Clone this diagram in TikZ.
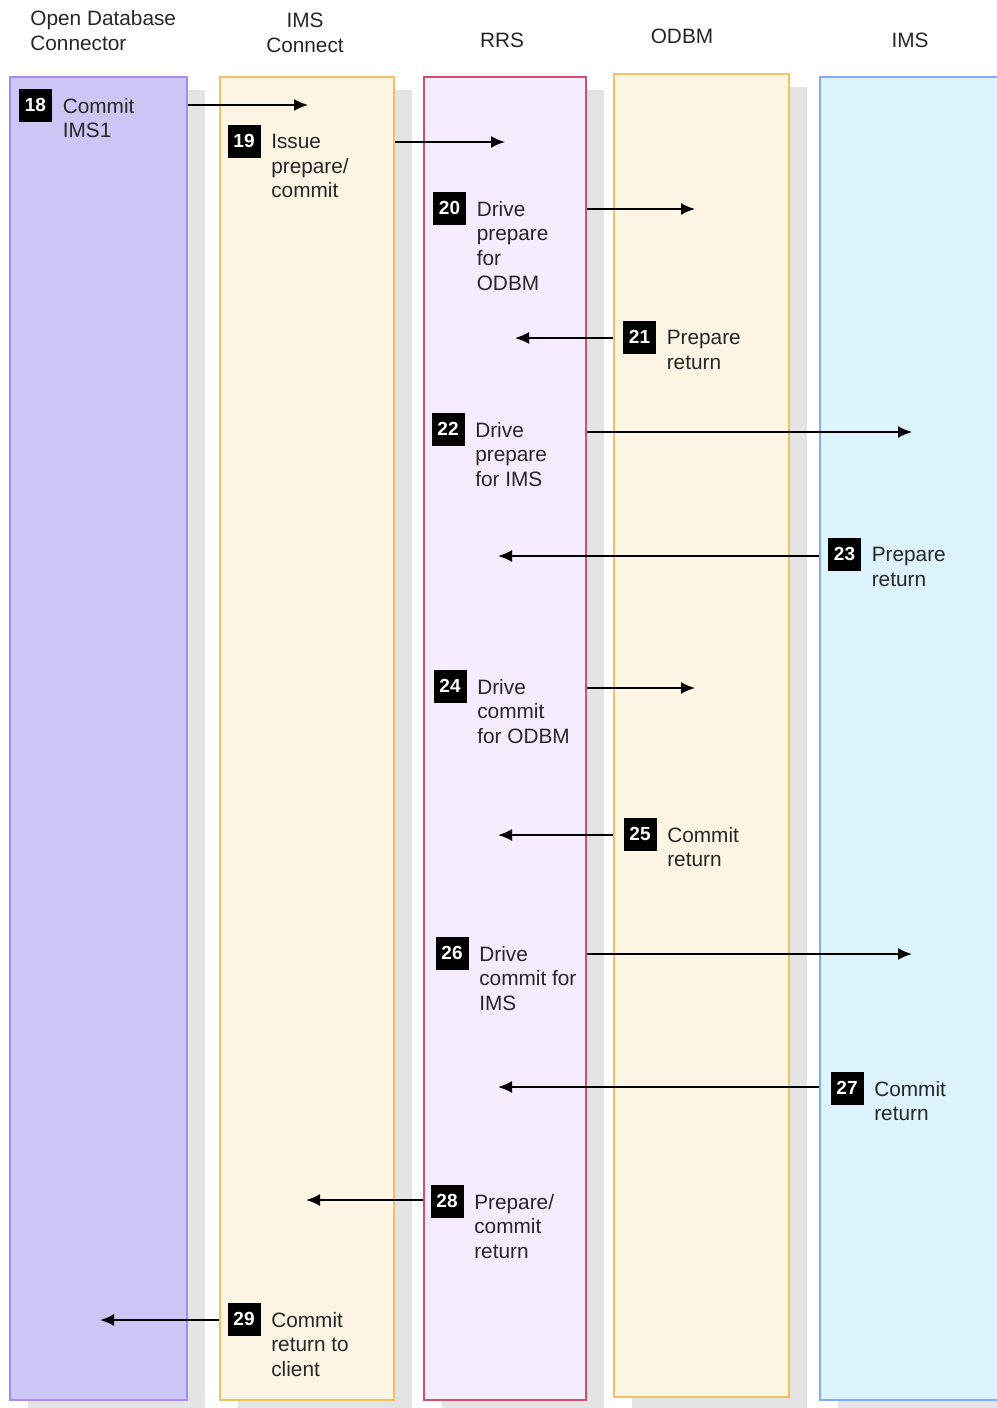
\documentclass[tikz,border=0pt]{standalone}
\usepackage{fontspec}
\setmainfont{Liberation Sans}
\usepackage{tikz}
\usetikzlibrary{arrows.meta,positioning,shadows}
\definecolor{odcfill}{HTML}{CDC5F4}
\definecolor{odcline}{HTML}{A68BF0}
\definecolor{conffill}{HTML}{FDF5E4}
\definecolor{confline}{HTML}{F3C164}
\definecolor{rrsfill}{HTML}{F5ECFD}
\definecolor{rrsline}{HTML}{D2506E}
\definecolor{imsfill}{HTML}{DDF4FE}
\definecolor{imsline}{HTML}{84A9F9}
\definecolor{lanegray}{HTML}{E4E4E4}
\tikzset{
	lane/.style={draw, line width=1pt, minimum height=661.5pt, inner sep=0pt,
		general shadow={fill=lanegray, shadow xshift=9pt, shadow yshift=-6.5pt}},
	badge/.style={fill=black, text=white, minimum size=16.5pt, inner sep=0pt,
		font=\fontsize{9.5}{10}\selectfont\bfseries},
	txt/.style={inner sep=0pt, align=left, text=black!85,
		font=\fontsize{10.4}{12.3}\selectfont},
	hdr/.style={txt, anchor=north},
	flow/.style={->, line width=1pt},
}
\begin{document}
\begin{tikzpicture}[x=0.5pt, y=-0.5pt, >={Latex[length=7pt,width=6pt]}]
	\useasboundingbox (0,0) rectangle (996,1408);
	% swim lanes
	\node[lane, fill=odcfill, draw=odcline, minimum width=88.5pt] at (98.5,738.5) (odc) {};
	\node[lane, fill=conffill, draw=confline, minimum width=87pt] at (307,738.5) (conn) {};
	\node[lane, fill=rrsfill, draw=rrsline, minimum width=81pt] at (505,738.5) (rrs) {};
	\node[lane, fill=conffill, draw=confline, minimum width=87.5pt] at (701.5,735.5) (odbm) {};
	\node[lane, fill=imsfill, draw=imsline, minimum width=90pt] at (910,738.5) (ims) {};
	% headers
	\node[txt, anchor=north west] at (30,10) (hodc) {Open Database\\Connector};
	\node[hdr, align=center] at (305,13) (hconn) {IMS\\Connect};
	\node[hdr] at (502,33) (hrrs) {RRS};
	\node[hdr] at (682,29) (hodbm) {ODBM};
	\node[hdr] at (910,33) (hims) {IMS};
	% numbered steps
	\node[badge] at (35.5,105) (b18) {18};
	\node[txt, anchor=north west] at ([shift={(5pt,3.6pt)}]b18.east) (s18) {Commit\\IMS1};
	\node[badge] at (244,141) (b19) {19};
	\node[txt, anchor=north west] at ([shift={(5pt,3.6pt)}]b19.east) (s19) {Issue\\prepare/\\commit};
	\node[badge] at (449.5,208) (b20) {20};
	\node[txt, anchor=north west] at ([shift={(5pt,3.6pt)}]b20.east) (s20) {Drive\\prepare\\for\\ODBM};
	\node[badge] at (639.5,337) (b21) {21};
	\node[txt, anchor=north west] at ([shift={(5pt,3.6pt)}]b21.east) (s21) {Prepare\\return};
	\node[badge] at (448,429) (b22) {22};
	\node[txt, anchor=north west] at ([shift={(5pt,3.6pt)}]b22.east) (s22) {Drive\\prepare\\for IMS};
	\node[badge] at (844.5,554) (b23) {23};
	\node[txt, anchor=north west] at ([shift={(5pt,3.6pt)}]b23.east) (s23) {Prepare\\return};
	\node[badge] at (450,686) (b24) {24};
	\node[txt, anchor=north west] at ([shift={(5pt,3.6pt)}]b24.east) (s24) {Drive\\commit\\for ODBM};
	\node[badge] at (640,834) (b25) {25};
	\node[txt, anchor=north west] at ([shift={(5pt,3.6pt)}]b25.east) (s25) {Commit\\return};
	\node[badge] at (452,953) (b26) {26};
	\node[txt, anchor=north west] at ([shift={(5pt,3.6pt)}]b26.east) (s26) {Drive\\commit for\\IMS};
	\node[badge] at (847,1088) (b27) {27};
	\node[txt, anchor=north west] at ([shift={(5pt,3.6pt)}]b27.east) (s27) {Commit\\return};
	\node[badge] at (447,1201) (b28) {28};
	\node[txt, anchor=north west] at ([shift={(5pt,3.6pt)}]b28.east) (s28) {Prepare/\\commit\\return};
	\node[badge] at (244,1319) (b29) {29};
	\node[txt, anchor=north west] at ([shift={(5pt,3.6pt)}]b29.east) (s29) {Commit\\return to\\client};
	% arrow ends
	\coordinate (e18) at (308,105);
	\coordinate (e19) at (505,142);
	\coordinate (e20) at (695,209);
	\coordinate (e21) at (515,338);
	\coordinate (e22) at (912,432);
	\coordinate (e23) at (498,556);
	\coordinate (e24) at (695,688);
	\coordinate (e25) at (498,835);
	\coordinate (e26) at (912,954);
	\coordinate (e27) at (498,1087);
	\coordinate (e28) at (306,1200);
	\coordinate (e29) at (100,1320);
	% messages
	\draw[flow] (odc.east |- e18) -- (e18);
	\draw[flow] (conn.east |- e19) -- (e19);
	\draw[flow] (rrs.east |- e20) -- (e20);
	\draw[flow] (odbm.west |- e21) -- (e21);
	\draw[flow] (rrs.east |- e22) -- (e22);
	\draw[flow] (ims.west |- e23) -- (e23);
	\draw[flow] (rrs.east |- e24) -- (e24);
	\draw[flow] (odbm.west |- e25) -- (e25);
	\draw[flow] (rrs.east |- e26) -- (e26);
	\draw[flow] (ims.west |- e27) -- (e27);
	\draw[flow] (rrs.west |- e28) -- (e28);
	\draw[flow] (conn.west |- e29) -- (e29);
\end{tikzpicture}
\end{document}
